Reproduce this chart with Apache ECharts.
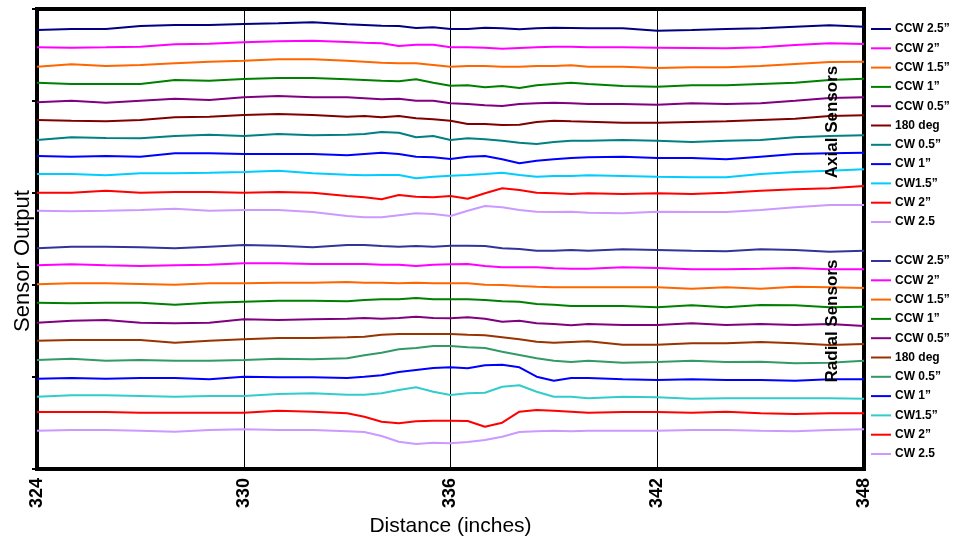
<!DOCTYPE html>
<html>
<head>
<meta charset="utf-8">
<script src="https://cdn.jsdelivr.net/npm/echarts@6/dist/echarts.min.js"></script>
<style>html,body{margin:0;padding:0;background:#fff;}#c{width:958px;height:544px;}</style>
</head>
<body>
<div id="c"></div>
<script>
// Distance (inches)
var distance = [324,325,326,327,328,329,330,331,332,333,333.5,334,334.5,335,335.5,336,336.5,337,337.5,338,338.5,339,339.5,340,341,342,343,344,345,346,347,348];
var xTicks = [324,330,336,342,348];

// Sensor output (arbitrary units, stacked traces)
var axialNames = ['CCW 2.5\u201D','CCW 2\u201D','CCW 1.5\u201D','CCW 1\u201D','CCW 0.5\u201D','180 deg','CW 0.5\u201D','CW 1\u201D','CW1.5\u201D','CW 2\u201D','CW 2.5'];
var axialColors = ['#000080','#FF00FF','#FF6600','#008000','#800080','#800000','#008080','#0000FF','#00CCFF','#FF0000','#CC99FF'];
var radialNames = ['CCW 2.5\u201D','CCW 2\u201D','CCW 1.5\u201D','CCW 1\u201D','CCW 0.5\u201D','180 deg','CW 0.5\u201D','CW 1\u201D','CW1.5\u201D','CW 2\u201D','CW 2.5'];
var radialColors = ['#333399','#FF00FF','#FF6600','#008000','#800080','#993300','#339966','#0000FF','#33CCCC','#FF0000','#CC99FF'];

var axialCCW25 = [439,440,440,443,444,444,445,445.7,446.7,444.7,444,443.3,443,441,441.7,440,440,441.3,440.7,439.7,440.7,441.3,441,440.7,440.7,438.3,439,440,440.7,442.3,443.7,442.3];
var axialCCW2  = [421.7,421.3,421.7,422.3,424.7,425.3,426.7,427.7,428.3,427,426.3,425.7,423,424.3,424.3,421.7,421.7,421.3,420.3,421,421.7,422.3,422.3,421.7,421.7,421.3,421,420.7,421.7,424,425.7,425];
var axialCCW15 = [402.3,404.7,403,404,405.7,407.3,408.3,409.7,409.7,408.3,407.3,406.3,405.7,405.7,404,402.3,403,403,402.3,402.3,403,403,403.7,402.3,402.3,401,401.7,401.7,403,405,407,407.3];
var axialCCW1  = [386.3,385,385,385,389,388.3,390,391,391,389.7,389,388.3,387.7,389.7,386.3,383.3,383.7,381.7,383,381,383.7,385,386.3,385,383,382.3,383.7,383.7,385,386.3,389,390.3];
var axialCCW05 = [366.7,368.3,366.3,368.3,370.3,369,371.7,373,371.7,371.7,370.7,369.7,370.3,368.3,368.3,365.7,365,363.7,363,365,365.7,366.3,365.7,365,365,364.3,365.7,365,365.7,368.3,371,371.7];
var axial180   = [349,348.3,347.7,349,351.7,352.3,354,355,354,352.3,353,351.7,353,350.7,349.7,348.3,345,345,344,344.3,347,348.3,347.7,347.3,346.3,346.3,347,347.7,349,350.3,353,353.7];
var axialCW05  = [329,331.7,331,330.7,333,334.3,333,335,333.7,334.3,335,337,336.3,331.7,333,329,330.7,329.7,328.3,326.3,325,327,328.3,328.3,329,328.3,327,328.3,329,331.7,333,333.7];
var axialCW1   = [313,312.3,313,312.3,315.7,315.7,315,315,315,313.7,315,316.3,315,312.3,311.7,310,312.3,313,309.7,305.7,308.3,309.7,311,311.7,312.3,311,311,309.7,312.3,315,315.7,316.3];
var axialCW15  = [295,295,293.7,295.7,295.7,296.3,297,298.3,295.7,294.3,293.7,294,294,290.7,292.3,293.3,294,295,296.3,294,292.3,293,293,293.7,293,292.3,291.7,291.7,295,297,298.3,299.7];
var axialCW2   = [276.3,276.3,278.3,276.3,277,277,276.3,277,276.3,273,271.7,269.7,274,272.3,271.7,273,270.3,275.7,280.7,279,276.3,275.7,275,275.7,275,275.7,275,276.3,278.3,279.7,280.7,283];
var axialCW25  = [258.3,257.7,258.3,259,260.3,258.3,259,259,257,253,251.7,251.7,253.7,255.7,255,253,258.3,263,261.7,259,257.3,257,257.3,256.3,255.7,257.3,257,257,259,261.7,264,264];

var radialCCW25 = [220.7,222.3,222.3,221.7,220.7,222.3,224,223.3,221.7,224,224,223,222.3,223,222.3,223.3,223.3,223,220.7,220,218.3,218.3,219,218.3,219.7,219,218.3,217.7,219.7,219,217.3,218.3];
var radialCCW2  = [203.7,204.7,203.7,203,203.7,204.3,205.7,205.7,205,205,205,204.3,204.3,203,204.3,204.7,205,203,201.7,201.7,201.7,200.7,200.3,200.3,201.7,201,199.7,199.7,200.3,201,199.7,199.7];
var radialCCW15 = [184.7,185.7,185.7,185,184.3,185.7,185.7,186.3,186.3,187,186.3,186.3,185.7,186.3,185.7,185.7,185.7,184.3,184,183,182.3,181.7,181.7,181.7,181.7,181.7,180.3,181.7,180.3,182.3,181.7,181];
var radialCCW1  = [166.3,165.7,166.3,166.3,164.3,166.3,167.3,168.3,168.3,167.7,169,169.7,169.7,171,169.7,169.7,169.7,169,167.7,167.3,165,164.3,163,163,163,161.7,163.7,161.7,164,163.7,161.7,162.3];
var radialCCW05 = [146.3,148.3,149,146.3,145.7,146.3,149.7,149,149.7,150.3,151,150.3,151,152.3,151,150.7,151.7,150.3,147.3,148.3,145.7,145,143.7,145,144,144,145.7,144,145,144,145,143];
var radial180   = [128.3,129,129,129,126.3,128.3,129.7,131,131,131.7,132.3,134.3,135,135,135,135,134.3,133.7,131.7,129.7,127.3,126.3,127,127.7,124.3,124.3,125.7,125.7,127,125.7,124,125];
var radialCW05  = [109,110.3,108.3,109,108.3,108.3,109,110.3,109.7,110.7,113.7,116.3,119.7,121,123,123,121.7,121,117.3,114,110.7,108.3,107,108.3,106.3,107,108.3,107,107.3,105.7,106.3,108.3];
var radialCW1   = [90.3,91,90.3,91,91,89.7,92.3,91.7,91.7,91,92.3,93.7,97,99,101,101.7,100.7,103.7,104.3,101.7,92.3,88.3,91,91,89.7,89,89.7,89,89,88.3,89.7,89.7];
var radialCW15  = [72.3,73.7,73.7,73,72.3,73,73,75,75.7,74.3,74.3,75.7,79,81.7,77.3,74,75.7,76.3,82.3,83.7,77.3,72.3,72.3,70.7,72.3,71.7,70.3,70.7,70.7,70.7,70.7,70.3];
var radialCW2   = [57,57,57,56.3,56.3,56.3,56.3,58.3,57.3,55.7,52.3,47.3,45.7,47.7,48.3,48.3,48,42.3,46.3,57.3,59,58.3,57.3,56.3,57,57,56.3,57.3,55.7,55,55.7,55.7];
var radialCW25  = [38.3,39,39,38.3,37.3,39,39.7,39,39,37.7,37,33,27.3,25,26.3,25.7,27,29,32.3,37,37.7,38.3,37.7,38.3,38.3,38.3,39,39,38.3,37.7,39,39.7];

var axialData = [axialCCW25,axialCCW2,axialCCW15,axialCCW1,axialCCW05,axial180,axialCW05,axialCW1,axialCW15,axialCW2,axialCW25];
var radialData = [radialCCW25,radialCCW2,radialCCW15,radialCCW1,radialCCW05,radial180,radialCW05,radialCW1,radialCW15,radialCW2,radialCW25];

function pairs(arr){ return distance.map(function(x,i){ return [x, arr[i]]; }); }

var series = [];
var axialLegend = [], radialLegend = [];
axialNames.forEach(function(n,i){
  series.push({name:n, type:'line', data:pairs(axialData[i]), symbol:'none', smooth:false,
    lineStyle:{width:2, color:axialColors[i]}, itemStyle:{color:axialColors[i]}});
  axialLegend.push(n);
});
radialNames.forEach(function(n,i){
  var nm = n + '\u200B';
  series.push({name:nm, type:'line', data:pairs(radialData[i]), symbol:'none', smooth:false,
    lineStyle:{width:2, color:radialColors[i]}, itemStyle:{color:radialColors[i]}});
  radialLegend.push(nm);
});

var legendCommon = {
  orient:'vertical', left:866, itemWidth:20, itemHeight:14, itemGap:7.3,
  icon:'path://M0,6L20,6L20,8L0,8Z',
  textStyle:{fontFamily:'Arial, Liberation Sans, sans-serif', fontWeight:'bold', fontSize:12, color:'#000', padding:[0,0,0,-1]},
  selectedMode:false
};

var chart = echarts.init(document.getElementById('c'), null, {renderer:'canvas'});
chart.setOption({
  animation:false,
  backgroundColor:'#fff',
  grid:{left:37, right:94, top:9, bottom:75, show:true, borderColor:'#000', borderWidth:4, backgroundColor:'transparent'},
  xAxis:{
    type:'value', min:xTicks[0], max:xTicks[xTicks.length-1], interval:6,
    name:'Distance (inches)', nameLocation:'middle', nameGap:45,
    nameTextStyle:{fontFamily:'Arial, Liberation Sans, sans-serif', fontSize:21, color:'#000'},
    axisLine:{show:true, lineStyle:{color:'#000', width:4}},
    axisTick:{show:false},
    axisLabel:{rotate:90, margin:9, showMinLabel:true, showMaxLabel:true,
      fontFamily:'Arial, Liberation Sans, sans-serif', fontWeight:'bold', fontSize:18, color:'#000'},
    splitLine:{show:true, lineStyle:{color:'#000', width:1}}
  },
  yAxis:{
    type:'value', min:0, max:460, interval:92,
    axisLine:{show:true, lineStyle:{color:'#000', width:4}},
    axisTick:{show:true, length:5, lineStyle:{color:'#000', width:2}},
    axisLabel:{show:false},
    splitLine:{show:false}
  },
  legend:[
    Object.assign({}, legendCommon, {top:18, data:axialLegend}),
    Object.assign({}, legendCommon, {top:250, data:radialLegend})
  ],
  graphic:[
    {type:'text', x:23, y:261, rotation:Math.PI/2, style:{text:'Sensor Output', fontFamily:'Arial, Liberation Sans, sans-serif', fontSize:22, fill:'#000', align:'center', verticalAlign:'middle'}},
    {type:'text', x:832, y:122, rotation:Math.PI/2, z:100, style:{text:'Axial Sensors', fontFamily:'Arial, Liberation Sans, sans-serif', fontWeight:'bold', fontSize:17, fill:'#000', align:'center', verticalAlign:'middle'}},
    {type:'text', x:832, y:321, rotation:Math.PI/2, z:100, style:{text:'Radial Sensors', fontFamily:'Arial, Liberation Sans, sans-serif', fontWeight:'bold', fontSize:17, fill:'#000', align:'center', verticalAlign:'middle'}}
  ],
  series:series
});
</script>
</body>
</html>
